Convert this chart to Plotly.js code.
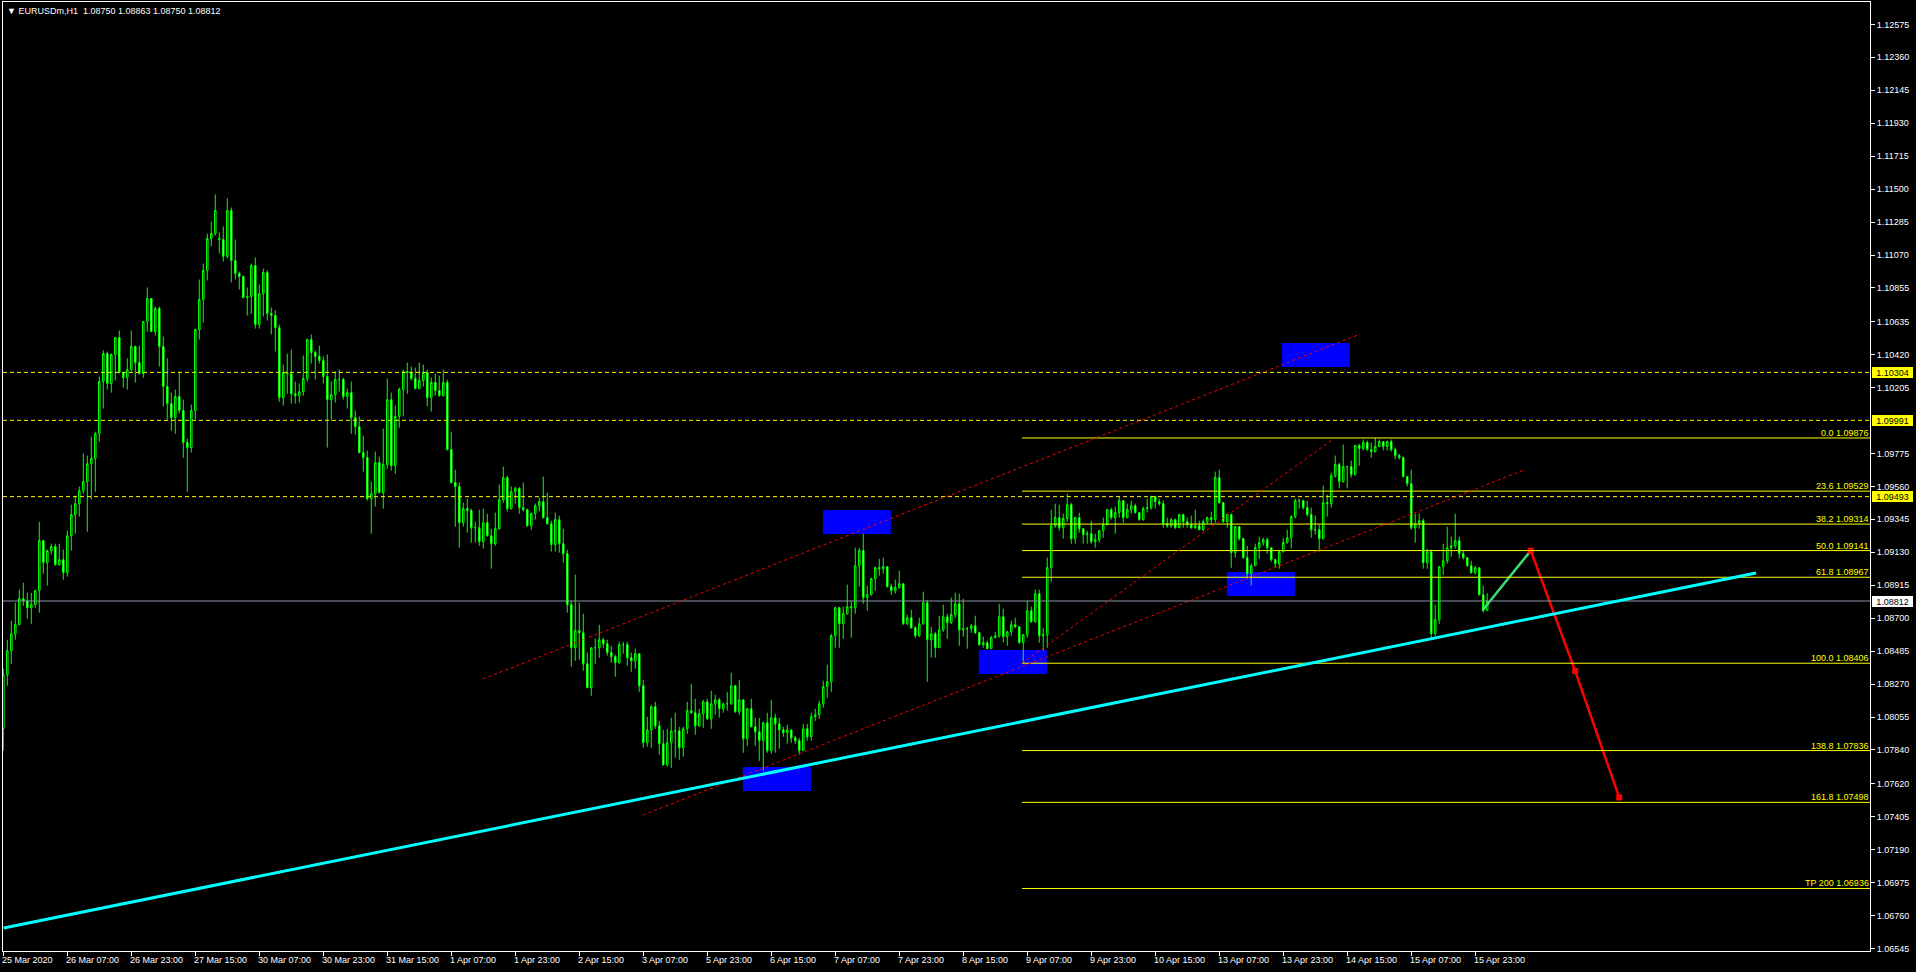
<!DOCTYPE html>
<html>
<head>
<meta charset="utf-8">
<script src="https://cdn.plot.ly/plotly-3.0.1.min.js"></script>
<style>
html,body{margin:0;padding:0;background:#000;}
#chart{width:1916px;height:972px;}
</style>
</head>
<body>
<div id="chart"></div>
<script>
// ---- EURUSDm H1 candles (bar index 0 = 25 Mar 2020 15:00) ----
const openP = [
1.07978,1.08331,1.08488,1.08598,1.08657,1.08827,1.08814,1.08768,1.08788,1.08879,
1.09206,1.09062,1.09141,1.09167,1.09049,1.09082,1.08997,1.09238,1.09376,1.09447,
1.09532,1.09591,1.09708,1.09742,1.09904,1.10244,1.10427,1.10231,1.10421,1.10531,
1.10303,1.10270,1.10322,1.10473,1.10368,1.10296,1.10635,1.10786,1.10570,1.10721,
1.10473,1.10212,1.10100,1.10009,1.10146,1.10055,1.09846,1.09813,1.10055,1.10583,
1.10779,1.10969,1.11178,1.11210,1.11178,1.11171,1.11061,1.11361,1.11034,1.10949,
1.10930,1.10792,1.10799,1.11001,1.10616,1.10818,1.10956,1.10688,1.10675,1.10596,
1.10139,1.10303,1.10296,1.10165,1.10152,1.10178,1.10264,1.10518,1.10434,1.10408,
1.10381,1.10277,1.10126,1.10159,1.10257,1.10257,1.10146,1.10172,1.10009,1.09950,
1.09781,1.09748,1.09480,1.09512,1.09715,1.09519,1.09702,1.10126,1.09695,1.10016,
1.10192,1.10309,1.10303,1.10264,1.10199,1.10251,1.10303,1.10139,1.10238,1.10185,
1.10152,1.10238,1.09800,1.09585,1.09559,1.09323,1.09415,1.09402,1.09290,1.09290,
1.09199,1.09323,1.09238,1.09186,1.09284,1.09473,1.09617,1.09415,1.09525,1.09546,
1.09421,1.09408,1.09303,1.09382,1.09434,1.09460,1.09356,1.09316,1.09180,1.09343,
1.09186,1.09121,1.08788,1.08507,1.08618,1.08605,1.08402,1.08246,1.08507,1.08507,
1.08559,1.08533,1.08475,1.08449,1.08409,1.08527,1.08527,1.08442,1.08422,1.08468,
1.08259,1.07887,1.07971,1.08122,1.07997,1.07880,1.07743,1.07887,1.07965,1.07965,
1.07854,1.07978,1.08096,1.08083,1.07997,1.08076,1.08154,1.08043,1.08141,1.08167,
1.08109,1.08141,1.08141,1.08259,1.08089,1.08167,1.07913,1.08109,1.07991,1.07958,
1.07900,1.08017,1.07835,1.08050,1.08010,1.07971,1.07952,1.07971,1.07919,1.07900,
1.07835,1.07978,1.07926,1.08057,1.08070,1.08141,1.08253,1.08285,1.08585,1.08768,
1.08663,1.08729,1.08775,1.08768,1.09042,1.09141,1.08834,1.08853,1.08958,1.09030,
1.09023,1.09036,1.08906,1.08879,1.08899,1.08925,1.08663,1.08703,1.08637,1.08585,
1.08663,1.08801,1.08559,1.08598,1.08507,1.08624,1.08709,1.08670,1.08723,1.08794,
1.08624,1.08631,1.08631,1.08650,1.08605,1.08527,1.08540,1.08501,1.08572,1.08585,
1.08709,1.08579,1.08611,1.08657,1.08644,1.08540,1.08592,1.08749,1.08677,1.08860,
1.08585,1.08592,1.09030,1.09303,1.09356,1.09290,1.09350,1.09441,1.09219,1.09356,
1.09284,1.09245,1.09251,1.09199,1.09212,1.09271,1.09310,1.09408,1.09356,1.09389,
1.09467,1.09356,1.09408,1.09434,1.09389,1.09343,1.09415,1.09421,1.09493,1.09460,
1.09447,1.09316,1.09303,1.09343,1.09290,1.09376,1.09329,1.09310,1.09290,1.09303,
1.09277,1.09329,1.09356,1.09343,1.09617,1.09454,1.09329,1.09376,1.09128,1.09297,
1.09219,1.09095,1.08990,1.09042,1.09160,1.09193,1.09212,1.09160,1.09082,1.09056,
1.09134,1.09193,1.09225,1.09363,1.09467,1.09467,1.09421,1.09376,1.09277,1.09277,
1.09219,1.09454,1.09447,1.09630,1.09702,1.09591,1.09689,1.09689,1.09637,1.09826,
1.09807,1.09846,1.09800,1.09787,1.09820,1.09852,1.09820,1.09852,1.09800,1.09761,
1.09748,1.09624,1.09578,1.09290,1.09316,1.09336,1.09062,1.09134,1.08598,1.08690,
1.09036,1.09075,1.09160,1.09173,1.09206,1.09121,1.09095,1.09042,1.08997,1.09029,
1.08853,1.08750];

const highP = [
1.08370,1.08559,1.08683,1.08801,1.08886,1.08932,1.08866,1.08866,1.08886,1.09329,
1.09212,1.09147,1.09186,1.09186,1.09186,1.09147,1.09271,1.09441,1.09499,1.09559,
1.09774,1.09761,1.09885,1.09917,1.10277,1.10447,1.10440,1.10427,1.10531,1.10577,
1.10303,1.10395,1.10577,1.10479,1.10479,1.10635,1.10858,1.10786,1.10734,1.10734,
1.10538,1.10395,1.10172,1.10192,1.10309,1.10126,1.09872,1.10094,1.10590,1.10910,
1.11014,1.11210,1.11288,1.11465,1.11217,1.11256,1.11439,1.11380,1.11171,1.10962,
1.10936,1.10858,1.11014,1.11054,1.10878,1.10982,1.10969,1.10727,1.10708,1.10616,
1.10355,1.10427,1.10453,1.10244,1.10231,1.10414,1.10525,1.10551,1.10447,1.10479,
1.10408,1.10421,1.10244,1.10309,1.10322,1.10270,1.10199,1.10244,1.10055,1.10016,
1.09891,1.09794,1.09591,1.09787,1.09755,1.09937,1.10264,1.10172,1.10087,1.10205,
1.10322,1.10368,1.10342,1.10335,1.10368,1.10355,1.10322,1.10270,1.10296,1.10283,
1.10322,1.10257,1.09917,1.09669,1.09585,1.09454,1.09480,1.09415,1.09329,1.09408,
1.09415,1.09382,1.09284,1.09389,1.09572,1.09689,1.09630,1.09559,1.09559,1.09556,
1.09585,1.09415,1.09389,1.09447,1.09486,1.09624,1.09519,1.09336,1.09389,1.09369,
1.09284,1.09147,1.08814,1.08984,1.08801,1.08729,1.08475,1.08507,1.08566,1.08657,
1.08572,1.08559,1.08520,1.08462,1.08546,1.08546,1.08546,1.08475,1.08501,1.08468,
1.08298,1.08057,1.08135,1.08154,1.08030,1.07971,1.07978,1.08050,1.08083,1.07991,
1.07991,1.08154,1.08272,1.08174,1.08109,1.08167,1.08174,1.08226,1.08200,1.08180,
1.08148,1.08219,1.08344,1.08265,1.08298,1.08167,1.08115,1.08174,1.08050,1.08050,
1.08024,1.08083,1.08167,1.08076,1.08050,1.07991,1.08004,1.07971,1.07932,1.07919,
1.08010,1.08010,1.08083,1.08109,1.08161,1.08292,1.08396,1.08598,1.08775,1.08775,
1.08775,1.08919,1.08814,1.09160,1.09160,1.09251,1.08912,1.08964,1.09036,1.09088,
1.09095,1.09036,1.08925,1.08951,1.09010,1.08925,1.08723,1.08755,1.08650,1.08703,
1.08873,1.08820,1.08644,1.08611,1.08716,1.08788,1.08729,1.08834,1.08866,1.08860,
1.08827,1.08644,1.08663,1.08716,1.08611,1.08579,1.08553,1.08585,1.08611,1.08794,
1.08762,1.08618,1.08683,1.08703,1.08650,1.08598,1.08814,1.08775,1.08886,1.08886,
1.08637,1.09095,1.09408,1.09447,1.09441,1.09382,1.09512,1.09454,1.09363,1.09389,
1.09284,1.09271,1.09336,1.09251,1.09277,1.09356,1.09415,1.09421,1.09428,1.09493,
1.09467,1.09447,1.09467,1.09447,1.09389,1.09428,1.09480,1.09499,1.09499,1.09480,
1.09467,1.09356,1.09356,1.09350,1.09382,1.09382,1.09356,1.09369,1.09408,1.09336,
1.09343,1.09363,1.09395,1.09656,1.09669,1.09460,1.09382,1.09382,1.09303,1.09303,
1.09225,1.09173,1.09055,1.09186,1.09232,1.09225,1.09225,1.09160,1.09088,1.09147,
1.09225,1.09277,1.09369,1.09480,1.09480,1.09473,1.09467,1.09421,1.09369,1.09310,
1.09565,1.09506,1.09650,1.09761,1.09715,1.09833,1.09695,1.09728,1.09833,1.09839,
1.09866,1.09859,1.09846,1.09878,1.09866,1.09852,1.09859,1.09866,1.09813,1.09774,
1.09755,1.09624,1.09669,1.09382,1.09382,1.09350,1.09154,1.09147,1.08788,1.09042,
1.09186,1.09297,1.09232,1.09382,1.09232,1.09141,1.09095,1.09075,1.09042,1.09029,
1.08912,1.08863];

const lowP = [
1.07835,1.08259,1.08402,1.08559,1.08657,1.08781,1.08697,1.08663,1.08768,1.08736,
1.08990,1.08912,1.09115,1.09042,1.09042,1.08951,1.08971,1.09141,1.09251,1.09363,
1.09512,1.09264,1.09473,1.09525,1.09852,1.10068,1.10192,1.10172,1.10251,1.10296,
1.10205,1.10192,1.10310,1.10238,1.10290,1.10270,1.10570,1.10570,1.10544,1.10342,
1.10081,1.09996,1.09924,1.09904,1.10035,1.09748,1.09525,1.09781,1.09996,1.10518,
1.10629,1.10904,1.11126,1.11197,1.11080,1.11027,1.11048,1.10891,1.10910,1.10845,
1.10786,1.10675,1.10688,1.10590,1.10590,1.10669,1.10642,1.10551,1.10440,1.10113,
1.10087,1.10165,1.10100,1.10100,1.10107,1.10152,1.10244,1.10361,1.10257,1.10361,
1.10231,1.09813,1.09989,1.10107,1.10178,1.10126,1.10068,1.09904,1.09898,1.09774,
1.09656,1.09467,1.09251,1.09428,1.09519,1.09415,1.09676,1.09663,1.09643,1.09943,
1.10016,1.10165,1.10251,1.10192,1.10199,1.10212,1.10081,1.10048,1.10152,1.10146,
1.10146,1.09794,1.09578,1.09297,1.09160,1.09297,1.09258,1.09193,1.09193,1.09173,
1.09154,1.09232,1.09023,1.09173,1.09277,1.09454,1.09395,1.09408,1.09447,1.09382,
1.09395,1.09297,1.09277,1.09343,1.09395,1.09350,1.09310,1.09134,1.09134,1.09128,
1.09062,1.08736,1.08383,1.08422,1.08429,1.08357,1.08246,1.08193,1.08402,1.08442,
1.08507,1.08455,1.08409,1.08318,1.08402,1.08468,1.08389,1.08350,1.08370,1.08219,
1.07854,1.07861,1.07854,1.07978,1.07809,1.07736,1.07730,1.07723,1.07789,1.07776,
1.07796,1.07945,1.08076,1.07939,1.07991,1.07984,1.08037,1.07978,1.08070,1.08050,
1.08083,1.08096,1.08135,1.08083,1.08070,1.07822,1.07867,1.07991,1.07867,1.07769,
1.07704,1.07822,1.07815,1.07822,1.07848,1.07926,1.07880,1.07887,1.07880,1.07809,
1.07835,1.07900,1.07900,1.08030,1.08043,1.08115,1.08180,1.08219,1.08507,1.08507,
1.08566,1.08723,1.08572,1.08729,1.08906,1.08794,1.08749,1.08847,1.08879,1.08977,
1.08990,1.08899,1.08853,1.08860,1.08892,1.08657,1.08657,1.08631,1.08572,1.08579,
1.08657,1.08285,1.08442,1.08442,1.08507,1.08611,1.08566,1.08663,1.08703,1.08520,
1.08579,1.08501,1.08605,1.08598,1.08520,1.08507,1.08501,1.08501,1.08572,1.08572,
1.08540,1.08520,1.08585,1.08637,1.08533,1.08402,1.08572,1.08670,1.08670,1.08540,
1.08488,1.08507,1.08938,1.09290,1.09271,1.09219,1.09329,1.09186,1.09186,1.09258,
1.09186,1.09186,1.09186,1.09160,1.09193,1.09225,1.09303,1.09343,1.09251,1.09356,
1.09323,1.09350,1.09382,1.09382,1.09336,1.09336,1.09389,1.09408,1.09415,1.09434,
1.09290,1.09290,1.09290,1.09284,1.09290,1.09290,1.09290,1.09284,1.09284,1.09277,
1.09271,1.09316,1.09316,1.09323,1.09447,1.09323,1.09290,1.09029,1.09095,1.09206,
1.09088,1.08958,1.08912,1.09042,1.09088,1.09173,1.09121,1.09069,1.09029,1.09023,
1.09128,1.09186,1.09154,1.09350,1.09415,1.09408,1.09363,1.09225,1.09245,1.09134,
1.09212,1.09363,1.09421,1.09617,1.09546,1.09585,1.09546,1.09617,1.09630,1.09695,
1.09794,1.09794,1.09748,1.09781,1.09820,1.09794,1.09794,1.09787,1.09735,1.09735,
1.09617,1.09559,1.09277,1.09193,1.09284,1.09023,1.09023,1.08572,1.08585,1.08663,
1.08984,1.09056,1.09101,1.09154,1.09088,1.09082,1.09036,1.08990,1.08984,1.08847,
1.08736,1.08750];

const closeP = [
1.08331,1.08488,1.08598,1.08657,1.08827,1.08814,1.08768,1.08788,1.08879,1.09206,
1.09062,1.09141,1.09167,1.09049,1.09082,1.08997,1.09238,1.09376,1.09447,1.09532,
1.09591,1.09708,1.09742,1.09904,1.10244,1.10427,1.10231,1.10421,1.10531,1.10303,
1.10270,1.10322,1.10473,1.10368,1.10296,1.10635,1.10786,1.10570,1.10721,1.10473,
1.10212,1.10100,1.10009,1.10146,1.10055,1.09846,1.09813,1.10055,1.10583,1.10779,
1.10969,1.11178,1.11210,1.11361,1.11171,1.11061,1.11361,1.11034,1.10949,1.10930,
1.10792,1.10799,1.11001,1.10616,1.10818,1.10956,1.10688,1.10675,1.10596,1.10139,
1.10303,1.10296,1.10165,1.10152,1.10178,1.10264,1.10518,1.10434,1.10408,1.10381,
1.10277,1.10126,1.10159,1.10257,1.10257,1.10146,1.10172,1.10009,1.09950,1.09781,
1.09748,1.09480,1.09512,1.09715,1.09519,1.09702,1.10126,1.09695,1.10016,1.10192,
1.10309,1.10303,1.10264,1.10199,1.10251,1.10303,1.10139,1.10238,1.10185,1.10152,
1.10238,1.09800,1.09585,1.09559,1.09323,1.09415,1.09402,1.09290,1.09290,1.09199,
1.09323,1.09238,1.09186,1.09284,1.09473,1.09617,1.09415,1.09525,1.09546,1.09421,
1.09408,1.09303,1.09382,1.09434,1.09460,1.09356,1.09316,1.09180,1.09343,1.09186,
1.09121,1.08788,1.08507,1.08618,1.08605,1.08402,1.08246,1.08507,1.08507,1.08559,
1.08533,1.08475,1.08449,1.08409,1.08527,1.08527,1.08442,1.08422,1.08468,1.08259,
1.07887,1.07971,1.08122,1.07997,1.07880,1.07743,1.07887,1.07965,1.07965,1.07854,
1.07978,1.08096,1.08083,1.07997,1.08076,1.08154,1.08043,1.08141,1.08167,1.08109,
1.08141,1.08141,1.08259,1.08089,1.08167,1.07913,1.08109,1.07991,1.07958,1.07900,
1.08017,1.07835,1.08050,1.08010,1.07971,1.07952,1.07971,1.07919,1.07900,1.07835,
1.07978,1.07926,1.08057,1.08070,1.08141,1.08253,1.08285,1.08585,1.08768,1.08663,
1.08729,1.08775,1.08768,1.09042,1.09141,1.08834,1.08853,1.08958,1.09030,1.09023,
1.09036,1.08906,1.08879,1.08899,1.08925,1.08663,1.08703,1.08637,1.08585,1.08663,
1.08801,1.08559,1.08598,1.08507,1.08624,1.08709,1.08670,1.08723,1.08794,1.08624,
1.08631,1.08631,1.08650,1.08605,1.08527,1.08540,1.08501,1.08572,1.08585,1.08709,
1.08579,1.08611,1.08657,1.08644,1.08540,1.08592,1.08749,1.08677,1.08860,1.08585,
1.08592,1.09030,1.09303,1.09356,1.09290,1.09350,1.09441,1.09219,1.09356,1.09284,
1.09245,1.09251,1.09199,1.09212,1.09271,1.09310,1.09408,1.09356,1.09389,1.09467,
1.09356,1.09408,1.09434,1.09389,1.09343,1.09415,1.09421,1.09493,1.09460,1.09447,
1.09316,1.09303,1.09343,1.09290,1.09376,1.09329,1.09310,1.09290,1.09303,1.09277,
1.09329,1.09356,1.09343,1.09617,1.09454,1.09329,1.09376,1.09128,1.09297,1.09219,
1.09095,1.08990,1.09042,1.09160,1.09193,1.09212,1.09160,1.09082,1.09056,1.09134,
1.09193,1.09225,1.09363,1.09467,1.09467,1.09421,1.09376,1.09277,1.09277,1.09219,
1.09454,1.09447,1.09630,1.09702,1.09591,1.09689,1.09689,1.09637,1.09826,1.09807,
1.09846,1.09800,1.09787,1.09820,1.09852,1.09820,1.09852,1.09800,1.09761,1.09748,
1.09624,1.09578,1.09290,1.09316,1.09336,1.09062,1.09134,1.08598,1.08690,1.09036,
1.09075,1.09160,1.09173,1.09206,1.09121,1.09095,1.09042,1.08997,1.09029,1.08853,
1.08749,1.08812];

// ---- axis ticks ----
const xTickIdx = [0,16,32,48,64,80,96,112,128,144,160,176,192,208,224,240,256,272,288,304,320,336,352,368];
const xTickText = ['25 Mar 2020','26 Mar 07:00','26 Mar 23:00','27 Mar 15:00','30 Mar 07:00','30 Mar 23:00','31 Mar 15:00','1 Apr 07:00','1 Apr 23:00','2 Apr 15:00','3 Apr 07:00','5 Apr 23:00','6 Apr 15:00','7 Apr 07:00','7 Apr 23:00','8 Apr 15:00','9 Apr 07:00','9 Apr 23:00','10 Apr 15:00','13 Apr 07:00','13 Apr 23:00','14 Apr 15:00','15 Apr 07:00','15 Apr 23:00'];
const yTickVals = [1.12575,1.12360,1.12145,1.11930,1.11715,1.11500,1.11285,1.11070,1.10855,1.10635,1.10420,1.10205,1.09775,1.09560,1.09345,1.09130,1.08915,1.08700,1.08485,1.08270,1.08055,1.07840,1.07620,1.07405,1.07190,1.06975,1.06760,1.06545];
const yTickText = ['1.12575','1.12360','1.12145','1.11930','1.11715','1.11500','1.11285','1.11070','1.10855','1.10635','1.10420','1.10205','1.09775','1.09560','1.09345','1.09130','1.08915','1.08700','1.08485','1.08270','1.08055','1.07840','1.07620','1.07405','1.07190','1.06975','1.06760','1.06545'];

// ---- chart objects ----
const hLinePrices = [1.10304, 1.09991, 1.09493];
const hLineLabels = ['1.10304', '1.09991', '1.09493'];
const bidPrice = 1.08812;
const bidLabel = '1.08812';
const fibStartBar = 254.7;
const fibLevels = [1.09876, 1.09529, 1.09314, 1.09141, 1.08967, 1.08406, 1.07836, 1.07498, 1.06936];
const fibLabels = ['0.0 1.09876','23.6 1.09529','38.2 1.09314','50.0 1.09141','61.8 1.08967','100.0 1.08406','138.8 1.07836','161.8 1.07498','TP 200 1.06936'];
const cyanX = [0.1, 438.2];
const cyanY = [1.06678, 1.08995];
const redDotX0 = [119.9, 159.9, 254.7];
const redDotY0 = [1.08303, 1.07415, 1.08406];
const redDotX1 = [339.2, 380.2, 332.2];
const redDotY1 = [1.10554, 1.09667, 1.09863];
const boxX0 = [184.9, 204.9, 243.9, 305.9, 319.7];
const boxX1 = [201.9, 221.9, 260.9, 322.9, 336.7];
const boxY0 = [1.07572, 1.09249, 1.08335, 1.08845, 1.10339];
const boxY1 = [1.07729, 1.09406, 1.08492, 1.09001, 1.10496];
const greenPathX = [369.9, 381.9];
const greenPathY = [1.08753, 1.09141];
const redPathX = [381.9, 393.0, 404.0];
const redPathY = [1.09141, 1.08355, 1.07530];
const headerText = '\u25BC EURUSDm,H1\u00a0\u00a01.08750 1.08863 1.08750 1.08812';

const xMax = 466.7;
const barIdx = closeP.map((_, i) => i);
const FONT = 'Liberation Sans, Arial, sans-serif';

const traces = [
  {
    type: 'candlestick', x: barIdx, open: openP, high: highP, low: lowP, close: closeP,
    increasing: {line: {color: '#00FF00', width: 1}, fillcolor: '#000000'},
    decreasing: {line: {color: '#00FF00', width: 1}, fillcolor: '#FFFFFF'},
    whiskerwidth: 0, hoverinfo: 'skip', showlegend: false
  },
  {
    type: 'scatter', mode: 'lines', x: greenPathX, y: greenPathY,
    line: {color: '#3CDC78', width: 2.5}, hoverinfo: 'skip', showlegend: false
  },
  {
    type: 'scatter', mode: 'lines+markers', x: redPathX, y: redPathY,
    line: {color: '#FF0000', width: 2.5},
    marker: {color: '#FF0000', size: 6, symbol: 'square'},
    hoverinfo: 'skip', showlegend: false
  }
];

const shapes = [];
for (let i = 0; i < boxX0.length; i++) {
  shapes.push({type: 'rect', xref: 'x', yref: 'y', x0: boxX0[i], x1: boxX1[i], y0: boxY0[i], y1: boxY1[i],
    fillcolor: '#0000FF', line: {width: 0}, layer: 'below'});
}
hLinePrices.forEach(p => shapes.push({type: 'line', xref: 'paper', yref: 'y', x0: 0, x1: 1, y0: p, y1: p,
  line: {color: '#FFFF00', width: 1, dash: '4px,3px'}}));
shapes.push({type: 'line', xref: 'paper', yref: 'y', x0: 0, x1: 1, y0: bidPrice, y1: bidPrice,
  line: {color: '#8a96a6', width: 1}});
fibLevels.forEach(p => shapes.push({type: 'line', xref: 'x', yref: 'y', x0: fibStartBar, x1: xMax, y0: p, y1: p,
  line: {color: '#FFFF00', width: 1}}));
for (let i = 0; i < redDotX0.length; i++) {
  shapes.push({type: 'line', xref: 'x', yref: 'y', x0: redDotX0[i], y0: redDotY0[i], x1: redDotX1[i], y1: redDotY1[i],
    line: {color: '#FF0000', width: 1, dash: '3px,3px'}});
}
shapes.push({type: 'line', xref: 'x', yref: 'y', x0: cyanX[0], y0: cyanY[0], x1: cyanX[1], y1: cyanY[1],
  line: {color: '#00FFFF', width: 3}});

const annotations = [];
annotations.push({xref: 'paper', yref: 'paper', x: 0, y: 1, xanchor: 'left', yanchor: 'top', xshift: 2, yshift: -2,
  text: headerText, showarrow: false, font: {family: FONT, size: 9, color: '#FFFFFF'}});
xTickIdx.forEach((v, i) => annotations.push({xref: 'x', yref: 'paper', x: v, y: 0, xanchor: 'left', yanchor: 'top',
  xshift: -1, yshift: -4, text: xTickText[i], showarrow: false, borderpad: 0, borderwidth: 0,
  font: {family: FONT, size: 9, color: '#FFFFFF'}}));
fibLevels.forEach((p, i) => annotations.push({xref: 'paper', yref: 'y', x: 1, y: p, xanchor: 'right', yanchor: 'bottom',
  xshift: -1, yshift: 0, text: fibLabels[i], showarrow: false, borderpad: 0, borderwidth: 0,
  font: {family: FONT, size: 9, color: '#FFFF00'}}));
hLinePrices.forEach((p, i) => annotations.push({xref: 'paper', yref: 'y', x: 1, y: p, xanchor: 'left', yanchor: 'middle',
  xshift: 2, text: hLineLabels[i], showarrow: false, bgcolor: '#FFFF00', borderpad: 0, borderwidth: 0,
  width: 41, height: 11, align: 'center', font: {family: FONT, size: 9, color: '#000000'}}));
annotations.push({xref: 'paper', yref: 'y', x: 1, y: bidPrice, xanchor: 'left', yanchor: 'middle',
  xshift: 2, text: bidLabel, showarrow: false, bgcolor: '#FFFFFF', borderpad: 0, borderwidth: 0,
  width: 41, height: 11, align: 'center', font: {family: FONT, size: 9, color: '#000000'}});

const layout = {
  width: 1916, height: 972,
  margin: {l: 3, r: 46, t: 2, b: 21, pad: 0},
  paper_bgcolor: '#000000', plot_bgcolor: '#000000',
  font: {family: FONT, size: 9, color: '#FFFFFF'},
  showlegend: false, hovermode: false, boxgap: 0.45,
  xaxis: {
    range: [-0.075, xMax], showgrid: false, zeroline: false,
    showline: true, mirror: true, linecolor: '#FFFFFF', linewidth: 1,
    ticks: 'outside', ticklen: 4, tickcolor: '#FFFFFF', tickwidth: 1,
    tickmode: 'array', tickvals: xTickIdx, showticklabels: false,
    rangeslider: {visible: false}, fixedrange: true
  },
  yaxis: {
    side: 'right', range: [1.06528, 1.12721], showgrid: false, zeroline: false,
    showline: true, mirror: true, linecolor: '#FFFFFF', linewidth: 1,
    ticks: 'outside', ticklen: 4, tickcolor: '#FFFFFF', tickwidth: 1,
    tickmode: 'array', tickvals: yTickVals, ticktext: yTickText,
    tickfont: {family: FONT, size: 9, color: '#FFFFFF'}, fixedrange: true
  },
  shapes: shapes,
  annotations: annotations
};

Plotly.newPlot('chart', traces, layout, {staticPlot: true, displayModeBar: false});
</script>
</body>
</html>
